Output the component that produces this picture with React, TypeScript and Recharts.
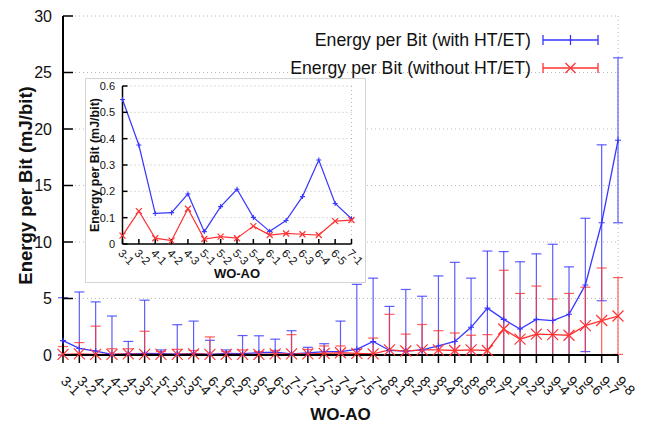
import React from 'react';
import { LineChart, Line, XAxis, YAxis, CartesianGrid, ErrorBar, Legend, Label } from 'recharts';

// WO-AO combinations on the x axis
const categories = [
  '3-1', '3-2', '4-1', '4-2', '4-3', '5-1', '5-2', '5-3', '5-4',
  '6-1', '6-2', '6-3', '6-4', '6-5', '7-1', '7-2', '7-3', '7-4', '7-5', '7-6',
  '8-1', '8-2', '8-3', '8-4', '8-5', '8-6', '8-7',
  '9-1', '9-2', '9-3', '9-4', '9-5', '9-6', '9-7', '9-8',
];

// energy per bit (mJ/bit), with HT/ET
const withHtEt = [
  1.27, 0.58, 0.35, 0.05, 0.1, 0.15, 0.12, 0.08, 0.15,
  0.05, 0.15, 0.12, 0.2, 0.25, 0.1, 0.18, 0.3, 0.3, 0.5, 1.2,
  0.4, 0.35, 0.45, 0.8, 1.2, 2.45, 4.15,
  3.15, 2.3, 3.15, 3.05, 3.6, 6.2, 11.7, 19.0,
];
const withHtEtErr = [
  3.8, 5.0, 4.35, 3.4, 1.1, 4.7, 0.33, 2.6, 2.85,
  1.25, 0.3, 1.6, 1.5, 1.15, 2.05, 0.5, 0.7, 2.7, 5.75, 5.6,
  3.9, 5.45, 4.75, 6.2, 7.0, 4.35, 5.05,
  6.0, 5.95, 5.8, 6.75, 4.2, 5.9, 6.9, 7.3,
];

// energy per bit (mJ/bit), without HT/ET
const withoutHtEt = [
  0.05, 0.1, 0.05, 0.05, 0.1, 0.05, 0.05, 0.05, 0.1,
  0.05, 0.05, 0.05, 0.05, 0.1, 0.1, 0.1, 0.15, 0.2, 0.15, 0.1,
  0.45, 0.35, 0.45, 0.45, 0.4, 0.45, 0.4,
  2.3, 1.4, 1.85, 1.8, 1.75, 2.6, 3.05, 3.45,
];
const withoutHtEtErr = [
  0.7, 1.0, 2.5, 0.5, 0.45, 2.05, 0.25, 0.45, 0.3,
  1.55, 0.25, 0.4, 0.25, 0.3, 1.7, 0.4, 0.65, 0.6, 0.35, 1.4,
  3.15, 1.5, 2.25, 1.7, 1.55, 1.3, 1.4,
  5.2, 4.05, 4.25, 3.15, 3.7, 3.4, 4.65, 3.4,
];

// inset: zoom on the first 15 combinations
const insetCategories = categories.slice(0, 15);
const insetWithHtEt = [0.549, 0.376, 0.116, 0.119, 0.19, 0.047, 0.142, 0.208, 0.101, 0.048, 0.089, 0.18, 0.319, 0.154, 0.096];
const insetWithoutHtEt = [0.032, 0.125, 0.022, 0.013, 0.134, 0.019, 0.028, 0.022, 0.068, 0.034, 0.04, 0.037, 0.034, 0.087, 0.091];

const yTicks = [0, 5, 10, 15, 20, 25, 30];
const insetYTicks = [0, 0.1, 0.2, 0.3, 0.4, 0.5, 0.6];
const groupStarts = ['4-1', '5-1', '6-1', '7-1', '8-1', '9-1'];
const insetGroupStarts = ['4-1', '5-1', '6-1'];

const BLUE = '#3636ff';
const RED = '#ff3333';
const FONT = '"Liberation Sans", Arial, Helvetica, sans-serif';

// error bars are cut at the x axis, like the plot's y range does
const clampErr = (v: number, e: number) => [Math.min(v, e), e];

const mainData = categories.map((name, i) => ({
  name,
  withHt: withHtEt[i],
  withHtErr: clampErr(withHtEt[i], withHtEtErr[i]),
  withoutHt: withoutHtEt[i],
  withoutHtErr: clampErr(withoutHtEt[i], withoutHtEtErr[i]),
}));

const insetData = insetCategories.map((name, i) => ({
  name,
  withHt: insetWithHtEt[i],
  withoutHt: insetWithoutHtEt[i],
}));

const plusDot = (size: number, color: string) => (props: any) => {
  const { cx, cy, index } = props;
  if (cx == null || cy == null) return <g key={index} />;
  return (
    <path key={index} d={`M${cx - size},${cy}H${cx + size}M${cx},${cy - size}V${cy + size}`}
      stroke={color} strokeWidth={1.1} fill="none" />
  );
};

const crossDot = (size: number, color: string) => (props: any) => {
  const { cx, cy, index } = props;
  if (cx == null || cy == null) return <g key={index} />;
  return (
    <path key={index}
      d={`M${cx - size},${cy - size}L${cx + size},${cy + size}M${cx - size},${cy + size}L${cx + size},${cy - size}`}
      stroke={color} strokeWidth={1.2} fill="none" />
  );
};

const SlantTick = (props: any) => {
  const { x, y, payload, size, dx, dy } = props;
  return (
    <text transform={`translate(${x + dx},${y + dy}) rotate(45)`} fontSize={size}
      fontFamily={FONT} fill="#111" textAnchor="start">
      {payload.value}
    </text>
  );
};

const LegendBox = ({ payload }: any) => (
  <div style={{ fontFamily: FONT, fontSize: 17.7, color: '#111' }}>
    {(payload || []).map((entry: any, i: number) => (
      <div key={i} style={{ display: 'flex', justifyContent: 'flex-end', alignItems: 'center', height: 28 }}>
        <span style={{ marginRight: 11, whiteSpace: 'nowrap' }}>{entry.value}</span>
        <svg width={58} height={16}>
          <path d="M1,8H56M1,3V13M56,3V13" stroke={entry.color} strokeWidth={1.3} fill="none" />
          {entry.dataKey === 'withHt'
            ? <path d="M28.5,3V13" stroke={entry.color} strokeWidth={1.3} />
            : <path d="M23.5,3L33.5,13M23.5,13L33.5,3" stroke={entry.color} strokeWidth={1.3} />}
        </svg>
      </div>
    ))}
  </div>
);

const frame = { stroke: '#000', strokeWidth: 2 };
const tickStroke = { stroke: '#000', strokeWidth: 1.5 };
const insetFrame = { stroke: '#000', strokeWidth: 1.5 };

export default function App() {
  return (
    <div style={{ position: 'absolute', left: 0, top: 0, width: 649, height: 431, background: '#fff' }}>
      <LineChart width={649} height={431} data={mainData} margin={{ top: 16, right: 31, bottom: 6, left: 13 }}>
        <CartesianGrid xAxisId="top" stroke="#b8b8b8" strokeDasharray="1 3" />
        <XAxis dataKey="name" interval={0} height={70} tickSize={8} tickMargin={2}
          axisLine={frame} tickLine={tickStroke}
          tick={(p: any) => <SlantTick {...p} size={14} dx={-3} dy={17} />}>
          <Label value="WO-AO" position="insideBottom" offset={5}
            style={{ fontWeight: 'bold', fontSize: 17, fontFamily: FONT, fill: '#111' }} />
        </XAxis>
        <XAxis xAxisId="top" orientation="top" dataKey="name" height={0} ticks={groupStarts}
          tick={false} tickSize={-8} axisLine={frame} tickLine={tickStroke} />
        <YAxis domain={[0, 30]} ticks={yTicks} width={50} tickSize={-10} tickMargin={21}
          axisLine={frame} tickLine={tickStroke}
          tick={{ fontSize: 16, fontFamily: FONT, fill: '#111' }}>
          <Label value="Energy per Bit (mJ/bit)" angle={-90} position="insideLeft" offset={12}
            style={{ textAnchor: 'middle', fontWeight: 'bold', fontSize: 18.5, fontFamily: FONT, fill: '#111' }} />
        </YAxis>
        <YAxis yAxisId="r" orientation="right" domain={[0, 30]} ticks={yTicks} width={0}
          tick={false} tickSize={-10} axisLine={frame} tickLine={tickStroke} />
        <Legend layout="vertical" align="center" verticalAlign="middle" content={<LegendBox />}
          wrapperStyle={{ left: 250, top: 26, width: 350 }} />
        <Line dataKey="withHt" name="Energy per Bit (with HT/ET)" stroke={BLUE} strokeWidth={1.3}
          isAnimationActive={false} activeDot={false} dot={plusDot(3, BLUE)}>
          <ErrorBar dataKey="withHtErr" direction="y" width={5} stroke={BLUE} strokeWidth={1.2} strokeOpacity={0.8} />
        </Line>
        <Line dataKey="withoutHt" name="Energy per Bit (without HT/ET)" stroke={RED} strokeWidth={1.3}
          isAnimationActive={false} activeDot={false} dot={crossDot(5.5, RED)}>
          <ErrorBar dataKey="withoutHtErr" direction="y" width={5} stroke={RED} strokeWidth={1.2} strokeOpacity={0.8} />
        </Line>
      </LineChart>

      <div style={{ position: 'absolute', left: 85, top: 78, width: 279, height: 203, border: '1px solid #d4d4d4', background: '#fff' }}>
        <LineChart width={279} height={203} data={insetData} margin={{ top: 7, right: 13.5, bottom: 0, left: 8.5 }}>
          <CartesianGrid xAxisId="top" stroke="#b8b8b8" strokeDasharray="1 3" />
          <XAxis dataKey="name" interval={0} height={38} tickSize={-5} tickMargin={5}
            axisLine={insetFrame} tickLine={tickStroke}
            tick={(p: any) => <SlantTick {...p} size={11.5} dx={-5} dy={10} />}>
            <Label value="WO-AO" position="insideBottom" offset={4.5}
              style={{ fontWeight: 'bold', fontSize: 13, fontFamily: FONT, fill: '#111' }} />
          </XAxis>
          <XAxis xAxisId="top" orientation="top" dataKey="name" height={0} ticks={insetGroupStarts}
            tick={false} tickSize={-5} axisLine={insetFrame} tickLine={tickStroke} />
          <YAxis domain={[0, 0.6]} ticks={insetYTicks} width={28} tickSize={-5} tickMargin={12.5}
            axisLine={insetFrame} tickLine={tickStroke}
            tick={{ fontSize: 11, fontFamily: FONT, fill: '#111' }}>
            <Label value="Energy per Bit (mJ/bit)" angle={-90} position="insideLeft" offset={0.5}
              style={{ textAnchor: 'middle', fontWeight: 'bold', fontSize: 12.5, fontFamily: FONT, fill: '#111' }} />
          </YAxis>
          <YAxis yAxisId="r" orientation="right" domain={[0, 0.6]} ticks={insetYTicks} width={0}
            tick={false} tickSize={-5} axisLine={insetFrame} tickLine={tickStroke} />
          <Line dataKey="withHt" stroke={BLUE} strokeWidth={1.2} isAnimationActive={false}
            activeDot={false} dot={plusDot(2.5, BLUE)} />
          <Line dataKey="withoutHt" stroke={RED} strokeWidth={1.2} isAnimationActive={false}
            activeDot={false} dot={crossDot(3, RED)} />
        </LineChart>
      </div>
    </div>
  );
}
